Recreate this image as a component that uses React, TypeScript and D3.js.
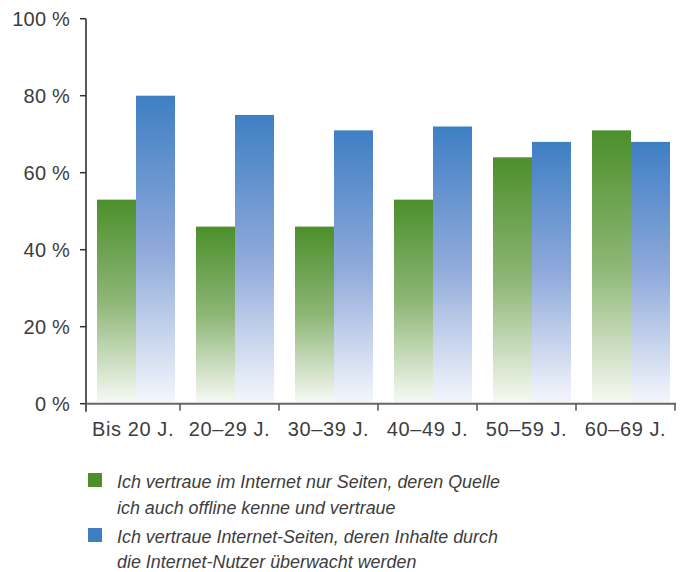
import React from "react";
import * as d3 from "d3";

const categories = ["Bis 20 J.", "20–29 J.", "30–39 J.", "40–49 J.", "50–59 J.", "60–69 J."];
const offlineKnown = [53, 46, 46, 53, 64, 71];
const communityChecked = [80, 75, 71, 72, 68, 68];
const yTicks = [0, 20, 40, 60, 80, 100];
const legendGreen = ["Ich vertraue im Internet nur Seiten, deren Quelle", "ich auch offline kenne und vertraue"];
const legendBlue = ["Ich vertraue Internet-Seiten, deren Inhalte durch", "die Internet-Nutzer überwacht werden"];

const W = 685;
const H = 572;
const FONT = "'Liberation Sans', Arial, Helvetica, sans-serif";
const TEXT = "#3d3d3d";

export default function App() {
  const x = d3.scaleBand<string>().domain(categories).range([86.5, 680.5]).paddingInner(0).paddingOuter(0);
  const y = d3.scaleLinear().domain([0, 100]).range([403.7, 18.7]);
  const barW = 39;
  const step = x.step();
  const x0 = x.range()[0];
  const tickXs = categories.map((_, i) => x0 + step * (i + 1) - 5.5);
  const labelXs = categories.map((_, i) => ((i === 0 ? 86 : tickXs[i - 1]) + tickXs[i]) / 2);

  return (
    <svg width={W} height={H} style={{ position: "absolute", left: 0, top: 0, background: "#fff" }}>
      <defs>
        <linearGradient id="gGreen" x1="0" y1="0" x2="0" y2="1">
          <stop offset="0" stopColor="#4c8f2b" />
          <stop offset="0.5" stopColor="#8db676" />
          <stop offset="1" stopColor="#f6f9f3" />
        </linearGradient>
        <linearGradient id="gBlue" x1="0" y1="0" x2="0" y2="1">
          <stop offset="0" stopColor="#3e7fc4" />
          <stop offset="0.5" stopColor="#8fa9da" />
          <stop offset="1" stopColor="#f4f6fc" />
        </linearGradient>
      </defs>

      {categories.map((c, i) => {
        const cx = (x(c) as number) + step / 2;
        return (
          <g key={c}>
            <rect x={cx - barW} y={y(offlineKnown[i])} width={barW} height={y(0) - 1.5 - y(offlineKnown[i])} fill="url(#gGreen)" />
            <rect x={cx} y={y(communityChecked[i])} width={barW} height={y(0) - 1.5 - y(communityChecked[i])} fill="url(#gBlue)" />
          </g>
        );
      })}

      {/* y axis */}
      <line x1={86} x2={86} y1={y(100)} y2={y(0) + 8} stroke="#222" strokeWidth={1.5} />
      {yTicks.map((t) => (
        <g key={t}>
          <line x1={80} x2={86} y1={y(t)} y2={y(t)} stroke="#333" strokeWidth={1.5} />
          <text x={70} y={y(t) + 7.5} textAnchor="end" fontFamily={FONT} fontSize={20} fill={TEXT} letterSpacing={0.2}>
            {t} %
          </text>
        </g>
      ))}

      {/* x axis */}
      <line x1={86} x2={676} y1={y(0)} y2={y(0)} stroke="#666" strokeWidth={2} />
      {tickXs.map((tx, i) => (
        <line key={i} x1={tx} x2={tx} y1={y(0)} y2={y(0) + 7} stroke="#555" strokeWidth={1.5} />
      ))}
      {categories.map((c, i) => (
        <text key={c} x={labelXs[i]} y={436} textAnchor="middle" fontFamily={FONT} fontSize={20} fill={TEXT} letterSpacing={0.6}>
          {c}
        </text>
      ))}

      {/* legend */}
      <rect x={88} y={473} width={14} height={14} fill="#4c8f2b" />
      {legendGreen.map((l, i) => (
        <text key={l} x={117} y={488 + i * 25.5} fontFamily={FONT} fontStyle="italic" fontSize={17.9} fill={TEXT}>
          {l}
        </text>
      ))}
      <rect x={88} y={528} width={14} height={14} fill="#3e7fc4" />
      {legendBlue.map((l, i) => (
        <text key={l} x={117} y={542.5 + i * 25.5} fontFamily={FONT} fontStyle="italic" fontSize={17.9} fill={TEXT}>
          {l}
        </text>
      ))}
    </svg>
  );
}
